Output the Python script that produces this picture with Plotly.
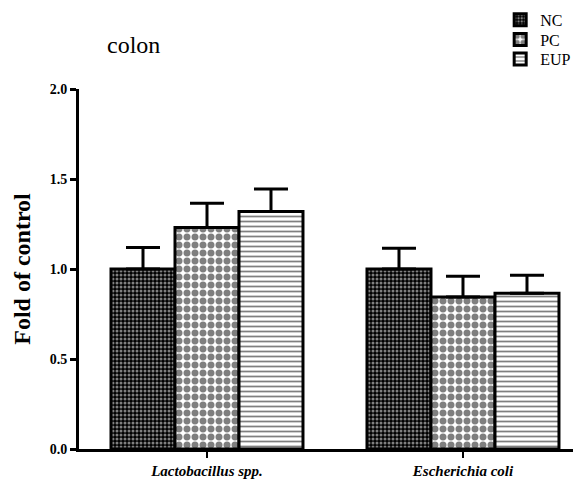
import plotly.graph_objects as go

categories = ["Lactobacillus spp.", "Escherichia coli"]
groups = ["NC", "PC", "EUP"]
means = {
    "NC": [1.00, 1.00],
    "PC": [1.23, 0.845],
    "EUP": [1.32, 0.865],
}
errors = {
    "NC": [0.12, 0.115],
    "PC": [0.135, 0.115],
    "EUP": [0.125, 0.10],
}
y_ticks = [0.0, 0.5, 1.0, 1.5, 2.0]

patterns = {
    "NC": dict(shape=".", bgcolor="black", fgcolor="white", size=4, solidity=0.45),
    "PC": dict(shape=".", bgcolor="white", fgcolor="black", size=8, solidity=0.6),
    "EUP": dict(shape="-", bgcolor="white", fgcolor="black", size=5, solidity=0.35),
}
# legend row positions (paper y)
legend_y = {"NC": 1.192, "PC": 1.1375, "EUP": 1.083}

serif = "Liberation Serif"
x_idx = list(range(len(categories)))

fig = go.Figure()
for i, g in enumerate(groups):
    lname = "legend" if i == 0 else "legend%d" % (i + 1)
    fig.add_trace(go.Bar(
        name=g, x=x_idx, y=means[g], legend=lname, showlegend=True,
        marker=dict(color="white", line=dict(color="black", width=3), pattern=patterns[g]),
        error_y=dict(type="data", symmetric=False, array=errors[g],
                     arrayminus=[0] * len(categories), color="black", thickness=3, width=17),
    ))

legend_common = dict(x=0.839, xanchor="left", yanchor="middle",
                     font=dict(family=serif, size=16), bgcolor="rgba(0,0,0,0)")

fig.update_layout(
    width=573, height=481, showlegend=True,
    barmode="group", bargap=0.25, bargroupgap=0,
    plot_bgcolor="white", paper_bgcolor="white",
    margin=dict(l=71, r=0, t=81, b=40, autoexpand=False),
    font=dict(family=serif, color="black"),
    legend=dict(y=legend_y["NC"], **legend_common),
    legend2=dict(y=legend_y["PC"], **legend_common),
    legend3=dict(y=legend_y["EUP"], **legend_common),
    annotations=[dict(text="colon", xref="paper", yref="paper", x=0.052, y=1.122,
                      xanchor="left", yanchor="middle", showarrow=False,
                      font=dict(family=serif, size=24))],
)
fig.update_xaxes(
    range=[-0.5, 1.461], tickvals=x_idx,
    ticktext=["<b><i>%s</i></b>" % c for c in categories],
    showline=True, linecolor="black", linewidth=3,
    ticks="outside", ticklen=6, tickwidth=2, tickcolor="black",
    tickfont=dict(family=serif, size=15), showgrid=False, zeroline=False,
)
fig.update_yaxes(
    range=[0, 2.0], tickvals=y_ticks, tickformat=".1f",
    showline=True, linecolor="black", linewidth=3,
    ticks="outside", ticklen=6, tickwidth=3, tickcolor="black",
    tickfont=dict(family=serif, size=14, weight="bold"), showgrid=False, zeroline=False,
    title=dict(text="<b>Fold of control</b>", font=dict(family=serif, size=24), standoff=13),
)

fig.write_html("out.html")
